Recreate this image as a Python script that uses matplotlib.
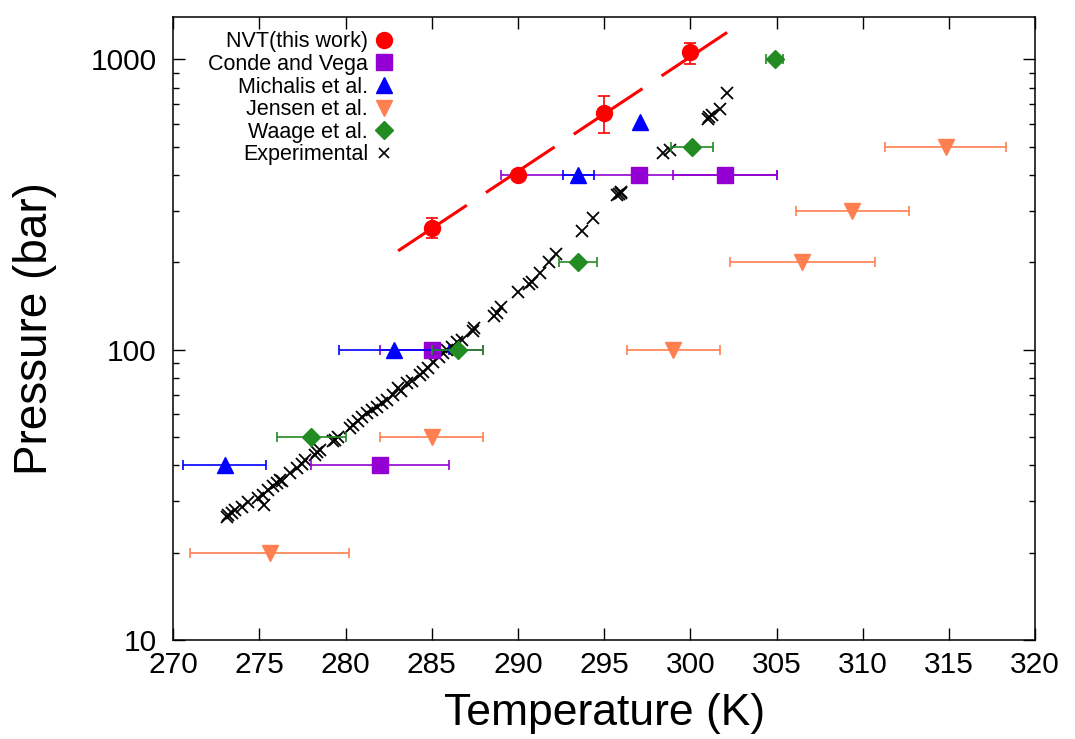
import matplotlib
matplotlib.use("Agg")
import matplotlib.pyplot as plt
from matplotlib.lines import Line2D
from matplotlib.ticker import FixedLocator, FixedFormatter, NullFormatter, MultipleLocator

plt.rcParams['font.family'] = ['Liberation Sans', 'DejaVu Sans']

# NVT (this work), with vertical error bars
nvt_T = [285, 290, 295, 300]
nvt_P = [263, 401, 656, 1057]
nvt_err_lo = [20, 0, 96, 89]
nvt_err_hi = [22, 0, 95, 78]

# dashed fit through the NVT points (end points)
fit_T = [283.05, 302.13]
fit_P = [219, 1239]

# literature data, horizontal error bars
conde_T = [282, 285, 297, 302]
conde_P = [40, 100, 400, 400]
conde_err = [4, 3, 8, 3]

michalis_T = [273, 282.8, 293.5, 297.1]
michalis_P = [40, 100, 400, 607]
michalis_err = [2.4, 3.2, 0.9, 0]

jensen_T = [275.6, 285, 299, 306.5, 309.4, 314.8]
jensen_P = [20, 50, 100, 200, 300, 500]
jensen_err = [4.6, 3, 2.7, 4.2, 3.3, 3.5]

waage_T = [278, 286.5, 293.5, 300.1, 304.9]
waage_P = [50, 100, 200, 500, 1000]
waage_err = [2, 1.5, 1.1, 1.2, 0.5]

# experimental coexistence data
exp_T = [273.1, 273.2, 273.4, 273.6, 274.0, 274.35, 274.9, 275.2, 275.3, 275.5,
         275.8, 276.0, 276.2, 276.3, 276.8, 277.2, 277.5, 277.66, 278.24, 278.35,
         278.5, 279.3, 279.4, 279.57, 280.27, 280.44, 280.7, 280.96, 281.25, 281.54,
         281.8, 282.1, 282.4, 282.76, 283.05, 283.2, 283.57, 283.86, 284.3, 284.5,
         284.8, 285.1, 285.4, 285.66, 285.9, 286.2, 286.47, 286.76, 287.4, 287.45,
         288.6, 288.8, 289.0, 290.0, 290.65, 290.82, 291.3, 291.8, 292.2, 293.72,
         294.36, 295.75, 295.87, 295.95, 296.0, 298.42, 298.83, 301.03, 301.1, 301.26,
         301.73, 302.13]
exp_P = [26.6, 27.0, 27.3, 28.0, 28.8, 29.9, 30.9, 31.6, 29.2, 32.9,
         33.8, 34.8, 35.6, 35.2, 37.7, 39.2, 40.5, 41.8, 43.4, 44.5,
         45.0, 48.5, 49.0, 50.0, 53.8, 55.1, 57.0, 58.8, 60.7, 62.1,
         63.5, 65.7, 67.3, 70.0, 73.9, 72.0, 76.9, 78.2, 82.0, 83.5,
         86.7, 90.9, 94.6, 97.7, 100, 102, 106, 108, 116, 119,
         131, 134, 140, 158, 169, 171, 184, 201, 213, 257,
         285, 340, 345, 350, 347, 477, 486, 621, 635, 646,
         673, 769]

fig = plt.figure(figsize=(10.75, 7.39), dpi=100)
ax = fig.add_axes([0.161, 0.134, 0.802, 0.843])

ax.plot(exp_T, exp_P, 'x', color='black', ms=8, mew=1.3, zorder=2)

ax.errorbar(conde_T, conde_P, xerr=conde_err, fmt='s', color='#9400D3',
            ms=11, elinewidth=1.2, capsize=3.5, capthick=1.2, zorder=3)
ax.errorbar(michalis_T, michalis_P, xerr=michalis_err, fmt='^', color='#0000FF',
            ms=12, elinewidth=1.2, capsize=3.5, capthick=1.2, zorder=4)
ax.errorbar(jensen_T, jensen_P, xerr=jensen_err, fmt='v', color='#FF7F50',
            ms=12, elinewidth=1.2, capsize=3.5, capthick=1.2, zorder=4)
ax.errorbar(waage_T, waage_P, xerr=waage_err, fmt='D', color='#228B22',
            ms=9, elinewidth=1.2, capsize=3.5, capthick=1.2, zorder=4)

ax.plot(fit_T, fit_P, color='#FF0000', lw=2.2, dashes=(27, 7.5), zorder=5)
ax.errorbar(nvt_T, nvt_P, yerr=[nvt_err_lo, nvt_err_hi], fmt='o', color='#FF0000',
            ms=11.5, elinewidth=1.2, capsize=4, capthick=1.2, zorder=6)

ax.set_yscale('log')
ax.set_xlim(270, 320)
ax.set_ylim(10, 1400)
ax.xaxis.set_major_locator(MultipleLocator(5))
ax.yaxis.set_major_locator(FixedLocator([10, 100, 1000]))
ax.yaxis.set_major_formatter(FixedFormatter(['10', '100', '1000']))
ax.yaxis.set_minor_formatter(NullFormatter())

ax.tick_params(which='both', direction='in', top=True, right=True, width=1.0)
ax.tick_params(which='major', length=8.5, labelsize=21.5)
ax.tick_params(which='minor', length=4.5)
ax.tick_params(axis='y', pad=12)
ax.tick_params(axis='x', pad=8)
for s in ax.spines.values():
    s.set_linewidth(1.1)

ax.set_xlabel('Temperature (K)', fontsize=32)
ax.set_ylabel('Pressure (bar)', fontsize=33)
ax.xaxis.set_label_coords(0.5, -0.085)
ax.yaxis.set_label_coords(-0.135, 0.5)

handles = [
    Line2D([], [], ls='none', marker='o', color='#FF0000', ms=11.5),
    Line2D([], [], ls='none', marker='s', color='#9400D3', ms=11),
    Line2D([], [], ls='none', marker='^', color='#0000FF', ms=12),
    Line2D([], [], ls='none', marker='v', color='#FF7F50', ms=12),
    Line2D([], [], ls='none', marker='D', color='#228B22', ms=9),
    Line2D([], [], ls='none', marker='x', color='black', ms=7.5, mew=1.2),
]
labels = ['NVT(this work)', 'Conde and Vega', 'Michalis et al.',
          'Jensen et al.', 'Waage et al.', 'Experimental']
ax.legend(handles, labels, loc='upper right', bbox_to_anchor=(0.2575, 0.977),
          frameon=False, markerfirst=False, fontsize=15.5, handlelength=1.0,
          handletextpad=0.25, labelspacing=0.075, borderpad=0, borderaxespad=0)

fig.savefig('out.png', dpi=100)
